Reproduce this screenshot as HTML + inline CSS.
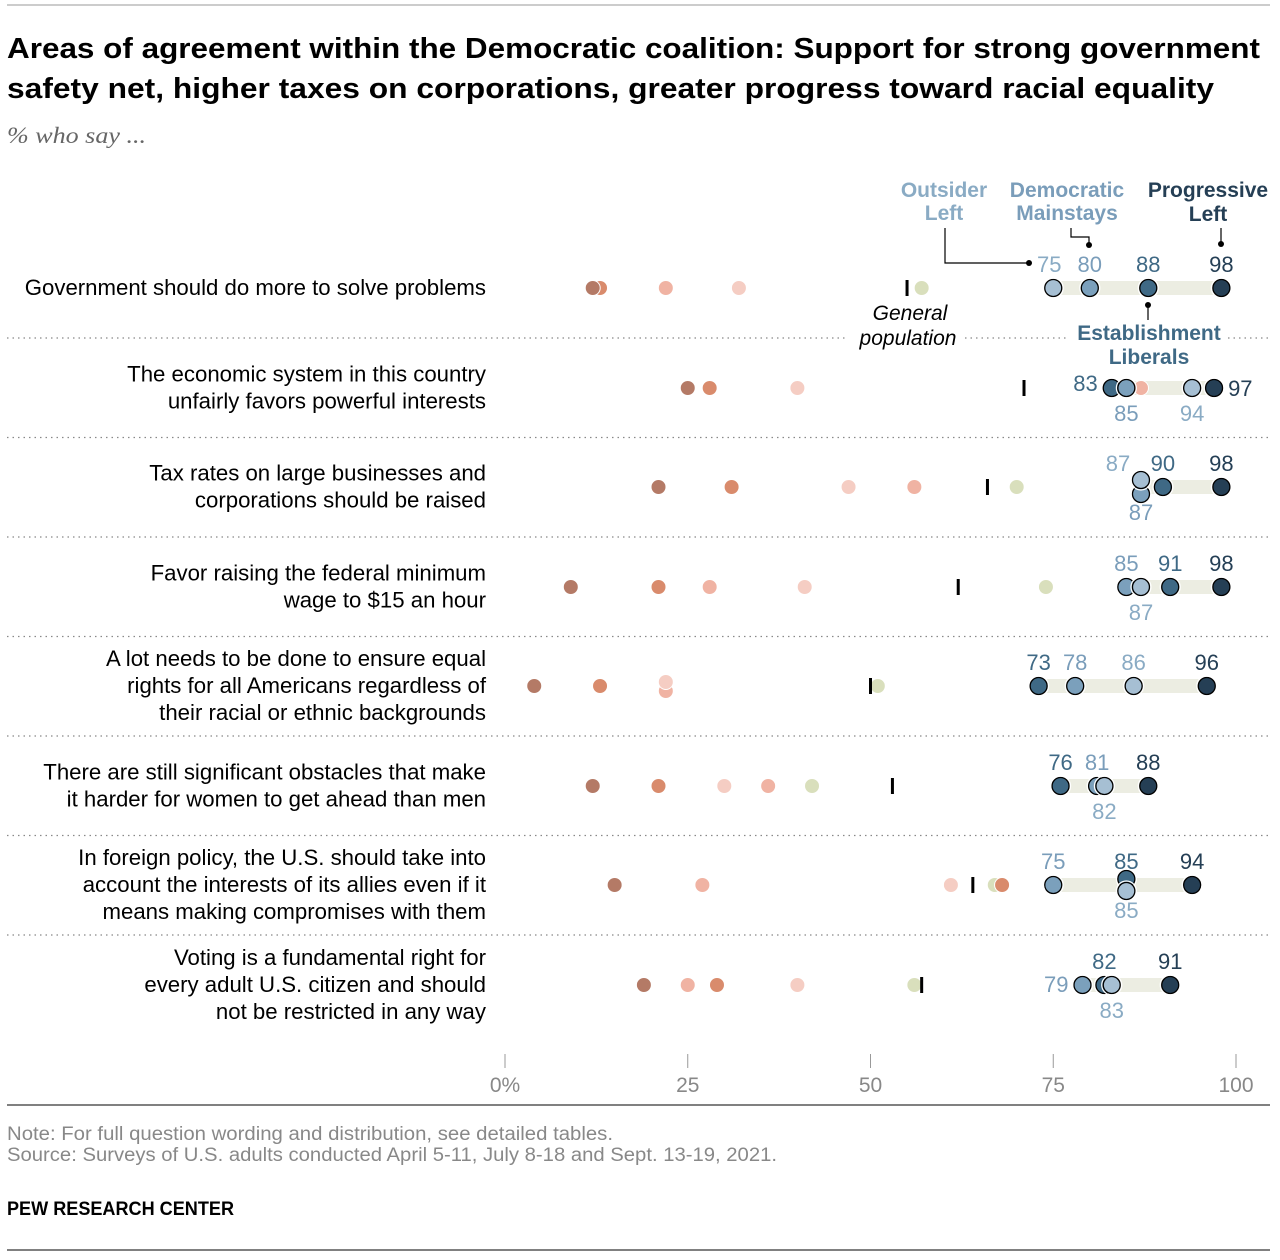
<!DOCTYPE html>
<html><head><meta charset="utf-8"><style>
body{margin:0;background:#fff;}
svg{display:block;font-family:"Liberation Sans",sans-serif;}
</style></head><body>
<svg id="c" width="1280" height="1260" viewBox="0 0 1280 1260">
<line x1="7" y1="5" x2="1270" y2="5" stroke="#999" stroke-width="1"/>
<text x="7" y="58" font-size="29" font-weight="bold" fill="#000" textLength="1253" lengthAdjust="spacingAndGlyphs">Areas of agreement within the Democratic coalition: Support for strong government</text>
<text x="7" y="98" font-size="29" font-weight="bold" fill="#000" textLength="1207" lengthAdjust="spacingAndGlyphs">safety net, higher taxes on corporations, greater progress toward racial equality</text>
<text x="7" y="143" font-size="23" font-style="italic" font-family="Liberation Serif,serif" fill="#666" textLength="139" lengthAdjust="spacingAndGlyphs">% who say ...</text>
<g id="g"></g>
<line x1="7" y1="1105" x2="1270" y2="1105" stroke="#000" stroke-width="1"/>
<text x="7" y="1140" font-size="19" fill="#888" textLength="606" lengthAdjust="spacingAndGlyphs">Note: For full question wording and distribution, see detailed tables.</text>
<text x="7" y="1161" font-size="19" fill="#888" textLength="770" lengthAdjust="spacingAndGlyphs">Source: Surveys of U.S. adults conducted April 5-11, July 8-18 and Sept. 13-19, 2021.</text>
<text x="7" y="1215" font-size="19" font-weight="bold" fill="#000" textLength="227" lengthAdjust="spacingAndGlyphs">PEW RESEARCH CENTER</text>
<line x1="7" y1="1250" x2="1270" y2="1250" stroke="#000" stroke-width="1"/>
</svg>
<script>
const questions=[["Government should do more to solve problems"],["The economic system in this country","unfairly favors powerful interests"],["Tax rates on large businesses and","corporations should be raised"],["Favor raising the federal minimum","wage to $15 an hour"],["A lot needs to be done to ensure equal","rights for all Americans regardless of","their racial or ethnic backgrounds"],["There are still significant obstacles that make","it harder for women to get ahead than men"],["In foreign policy, the U.S. should take into","account the interests of its allies even if it","means making compromises with them"],["Voting is a fundamental right for","every adult U.S. citizen and should","not be restricted in any way"]];
const repDark=[12,25,21,9,4,12,15,19];
const repOrange=[13,28,31,21,13,21,68,29];
const repSalmon=[22,87,56,28,22,36,27,25];
const repPink=[32,40,47,41,22,30,61,40];
const sideliners=[57,83,70,74,51,42,67,56];
const genPop=[55,71,66,62,50,53,64,57];
const outsiderLeft=[75,94,87,87,86,82,85,83];
const mainstays=[80,85,87,85,78,81,75,79];
const establishment=[88,83,90,91,73,76,85,82];
const progressive=[98,97,98,98,96,88,94,91];
const ticks=[0,25,50,75,100];
const tickLabels=["0%","25","50","75","100"];
// label placement (style): a=above b=below l=left r=right ; dy offsets for overlapping dots
const olPos=["a","b","a","b","a","b","b","b"], olDy=[0,0,-7,0,0,0,6,0], olDx=[-4,0,-23,0,0,0,0,0];
const msPos=["a","b","b","a","a","a","a","l"], msDy=[0,0,7,0,0,0,0,0];
const elPos=["n","l","a","a","a","a","a","a"], elDy=[0,0,0,0,0,0,-6,0];
const plPos=["a","r","a","a","a","a","a","a"];
const rowY=[288,388,487,587,686,786,885,985];
const NS="http://www.w3.org/2000/svg";
const g=document.getElementById('g');
const x=v=>505+v*7.31;
function el(t,a,p){const e=document.createElementNS(NS,t);for(const k in a)e.setAttribute(k,a[k]);(p||g).appendChild(e);return e;}
function txt(s,a){const e=el('text',a);e.textContent=s;return e;}
ticks.forEach((t,i)=>{
 const l=el('line',{x1:x(t),x2:x(t),y1:1054,y2:1068,stroke:'#999','stroke-width':1});
 
 
 const tl=txt(tickLabels[i],{x:x(t),y:1092,'font-size':21,fill:'#888','text-anchor':'middle'});
 
 
});
for(let i=0;i<7;i++){
 const y=(rowY[i]+rowY[i+1])/2;
 const segs=i===0?[[7,845],[965,1068],[1228,1270]]:[[7,1270]];
 segs.forEach(s=>{const l=el('line',{x1:s[0],x2:s[1],y1:y,y2:y,stroke:'#888','stroke-width':1.3,'stroke-dasharray':'1.5,4'});
  
  });
}
const cOL='#a6bfd3',cMS='#7ba0bc',cEL='#3f6985',cPL='#253f55';
const tOL='#8aabc4',tMS='#7a9dba',tEL='#3f6985',tPL='#253f55';
questions.forEach((q,i)=>{
 const y=rowY[i];
 const n=q.length, y0=y-(n-1)*13.5+7;
 q.forEach((s,j)=>{const t=txt(s,{x:486,y:y0+j*27,'font-size':22.2,fill:'#000','text-anchor':'end'});
  
  });
 const rd=[[sideliners[i],'#d9dfbc'],[repSalmon[i],'#f0b3a3'],[repPink[i],'#f5cdc3'],[repOrange[i],'#d98b6c'],[repDark[i],'#b47a66']];
 const dv=[outsiderLeft[i],mainstays[i],establishment[i],progressive[i]];
 const mn=Math.min(...dv),mx=Math.max(...dv);
 const bar=el('rect',{x:x(mn),y:y-7,width:x(mx)-x(mn),height:14,fill:'#ecede2'});
 
 
 let stack={};
 rd.forEach(r=>{const k=r[0];const dy=stack[k]?-4:0;if(stack[k])stack[k].setAttribute('cy',y+5);
  const c=el('circle',{cx:x(k),cy:y+dy,r:7.5,fill:r[1],stroke:'#fff','stroke-width':1});stack[k]=c;
  
  });
 const gp=el('rect',{x:x(genPop[i])-1.5,y:y-8,width:3,height:16,fill:'#000'});
 
 
 const dem=[[establishment[i],cEL,tEL,elPos[i],elDy[i],'establishment-liberals',0],[mainstays[i],cMS,tMS,msPos[i],msDy[i],'democratic-mainstays',0],[outsiderLeft[i],cOL,tOL,olPos[i],olDy[i],'outsider-left',olDx[i]],[progressive[i],cPL,tPL,plPos[i],0,'progressive-left',0]];
 dem.forEach(d=>{
  const cx=x(d[0]),cy=y+d[4];
  const c=el('circle',{cx:cx,cy:cy,r:8.5,fill:d[1],stroke:'#000','stroke-width':1.3});
  el('circle',{cx:cx,cy:cy,r:10,fill:'none',stroke:'#fff','stroke-width':1.2});
  
  
  let a;
  if(d[3]==='b')a={x:cx+d[6],y:y+33,'text-anchor':'middle'};
  else if(d[3]==='l')a={x:cx-14,y:y+7+(i===1?-4:0),'text-anchor':'end'};
  else if(d[3]==='r')a={x:cx+14,y:y+8,'text-anchor':'start'};
  else a={x:cx+d[6],y:y-16,'text-anchor':'middle'};
  a['font-size']=22;a.fill=d[2];
  const t=txt(String(d[0]),a);
  
  
 });
});
const L=[["Outsider",944,197,tOL],["Left",944,220,tOL],["Democratic",1067,197,tMS],["Mainstays",1067,220,tMS],["Progressive",1208,197,tPL],["Left",1208,221,tPL],["Establishment",1149,340,tEL],["Liberals",1149,364,tEL]];
L.forEach(l=>{const t=txt(l[0],{x:l[1],y:l[2],'font-size':21,'font-weight':'bold',fill:l[3],'text-anchor':'middle'});
 
 });
[["M945,228 V263 H1028"],["M1071,228 V237 H1089 V245"],["M1221,228 V244"],["M1148,306 V320"]].forEach(p=>{const e=el('path',{d:p[0],fill:'none',stroke:'#000','stroke-width':1.2});
 
 });
[[1029,263],[1089,245],[1221,244],[1148,305]].forEach(p=>{const e=el('circle',{cx:p[0],cy:p[1],r:3,fill:'#000'});
 
 });
const g1=txt("General",{x:910,y:320,'font-size':21,'font-style':'italic',fill:'#000','text-anchor':'middle'});


const g2=txt("population",{x:908,y:345,'font-size':21,'font-style':'italic',fill:'#000','text-anchor':'middle'});


</script>
</body></html>
